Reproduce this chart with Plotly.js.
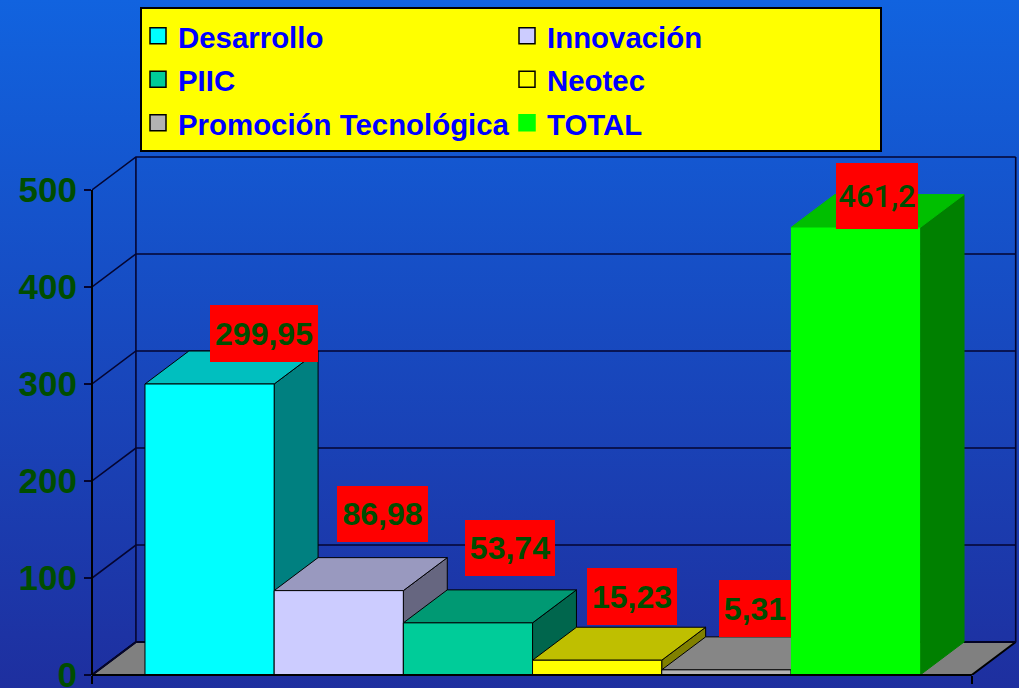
<!DOCTYPE html>
<html>
<head>
<meta charset="utf-8">
<script src="https://cdn.plot.ly/plotly-3.0.1.min.js"></script>
<style>
html,body{margin:0;padding:0;width:1019px;height:688px;overflow:hidden;background:linear-gradient(180deg,#1163df 0%,#1e2f9f 100%);}
#chart{width:1019px;height:688px;}
</style>
</head>
<body>
<div id="chart"></div>
<script>
const categories = ["Desarrollo","Innovación","PIIC","Neotec","Promoción Tecnológica","TOTAL"];
const values = [299.95,86.98,53.74,15.23,5.31,461.2];
const valueLabels = ["299,95","86,98","53,74","15,23","5,31","461,2"];
const yTicks = [0,100,200,300,400,500];

const frontColors = ["#00ffff","#ccccff","#00cc99","#ffff00","#b2b2b2","#00ff00"];
const topColors   = ["#00bfbf","#9999bf","#009973","#bfbf00","#868686","#00bf00"];
const sideColors  = ["#008080","#666680","#00664d","#808000","#595959","#008000"];
const edgeColors  = ["#000000","#000000","#000000","#000000","#000000","#00ff00"];

// label box placement, pixels from the top centre of each front face
const labelDx = [54.4,43.7,42,34.8,28.6,21.4];
const labelDy = [50.5,77,75,63.7,61.3,31.6];
const labelW  = [108,91,90,90,72,82];
const labelH  = [57,56,56,57,57,66];

const barStart = 0.41, xMax = 6.81, depthX = 0.34, depthY = 34;
const xLimit = 7.16, yLimit = 536;
const left = i => barStart + i, right = i => barStart + i + 1;
const ink = "#000000";
const legendRowFont = 29.4;

const traces = [];

// legend entries
categories.forEach((c,i)=>traces.push({
  type:"scatter",mode:"markers",name:'<span style="font-size:'+legendRowFont+'px">'+c+'</span>',x:[null],y:[null],hoverinfo:"skip",
  marker:{symbol:"square",size:16,color:frontColors[i],line:{color:i===5?frontColors[i]:ink,width:1.5}}
}));

// floor
traces.push({type:"scatter",mode:"lines",showlegend:false,hoverinfo:"skip",fill:"toself",
  fillcolor:"#808080",line:{color:ink,width:2},
  x:[0,depthX,xMax+depthX,xMax,0],y:[0,depthY,depthY,0,0]});

// walls
const gx=[],gy=[];
yTicks.forEach(v=>{
  gx.push(0,depthX,xMax+depthX,null);
  gy.push(v,v+depthY,v+depthY,null);
});
const topV = yTicks[yTicks.length-1];
gx.push(depthX,depthX,null,xMax+depthX,xMax+depthX);
gy.push(depthY,topV+depthY,null,depthY,topV+depthY);
traces.push({type:"scatter",mode:"lines",showlegend:false,hoverinfo:"skip",
  line:{color:"#050530",width:1.6},x:gx,y:gy});

// top and side faces, left to right
values.forEach((v,i)=>{
  const l=left(i), r=right(i);
  traces.push({type:"scatter",mode:"lines",showlegend:false,hoverinfo:"skip",fill:"toself",
    fillcolor:sideColors[i],line:{color:i===5?sideColors[i]:ink,width:1},
    x:[r,r+depthX,r+depthX,r,r],y:[0,depthY,v+depthY,v,0]});
  traces.push({type:"scatter",mode:"lines",showlegend:false,hoverinfo:"skip",fill:"toself",
    fillcolor:topColors[i],line:{color:i===5?topColors[i]:ink,width:1},
    x:[l,l+depthX,r+depthX,r,l],y:[v,v+depthY,v+depthY,v,v]});
});

// front faces, on an overlaid axis pair so they sit above all the depth faces
values.forEach((v,i)=>traces.push({
  type:"bar",x:[left(i)+0.5],y:[v],width:[1],name:categories[i],showlegend:false,
  xaxis:"x2",yaxis:"y2",hovertemplate:categories[i]+": "+valueLabels[i]+"<extra></extra>",
  marker:{color:frontColors[i],line:{color:edgeColors[i],width:i===5?0:1}}
}));

const annotations = values.map((v,i)=>({
  xref:"x2",yref:"y2",x:left(i)+0.5,y:v,xshift:labelDx[i],yshift:labelDy[i],
  xanchor:"center",yanchor:"middle",text:valueLabels[i],showarrow:false,
  bgcolor:"#ff0000",borderpad:0,borderwidth:0,width:labelW[i],height:labelH[i],align:"center",valign:"middle",
  font:i===5?{family:"Roboto,'Liberation Sans',Arial,sans-serif",size:31,color:"#004d00",weight:500}
            :{family:"'Liberation Sans',Arial,sans-serif",size:32,color:"#004d00",weight:700}
}));

const layout = {
  width:1019,height:688,
  paper_bgcolor:"rgba(0,0,0,0)",plot_bgcolor:"rgba(0,0,0,0)",
  margin:{l:92,r:2,t:155,b:13,pad:0,autoexpand:false},
  barmode:"overlay",
  showlegend:true,
  hovermode:"closest",
  xaxis:{range:[0,xLimit],tickvals:[0,xMax],ticktext:["",""],ticks:"outside",ticklen:8,tickwidth:1.5,tickcolor:ink,
    showgrid:false,zeroline:false,showline:false},
  yaxis:{range:[0,yLimit],tickvals:yTicks,ticks:"outside",ticklen:7,tickwidth:2,tickcolor:"#050530",
    showgrid:false,zeroline:false,showline:false,ticklabelstandoff:0,ticklabeloverflow:"allow",
    tickfont:{family:"'Liberation Sans',Arial,sans-serif",size:35,color:"#004d00",weight:700}},
  xaxis2:{overlaying:"x",range:[0,xLimit],visible:false,anchor:"y2"},
  yaxis2:{overlaying:"y",range:[0,yLimit],visible:false,anchor:"x2"},
  shapes:[
    {type:"line",xref:"paper",x0:0,x1:0,yref:"y",y0:0,y1:topV,line:{color:ink,width:2}},
    {type:"line",xref:"x",x0:0,x1:xMax,yref:"paper",y0:0,y1:0,line:{color:ink,width:2}}
  ],
  legend:{orientation:"h",x:0.0519,xanchor:"left",y:1.2846,yanchor:"top",
    bgcolor:"#ffff00",bordercolor:"#000000",borderwidth:2,indentation:-4,
    entrywidthmode:"pixels",entrywidth:328,itemclick:false,itemdoubleclick:false,
    font:{family:"'Liberation Sans',Arial,sans-serif",size:31.15,color:"#0000ff",weight:700}},
  annotations
};
Plotly.newPlot("chart",traces,layout,{displayModeBar:false,responsive:false});
</script>
</body>
</html>
